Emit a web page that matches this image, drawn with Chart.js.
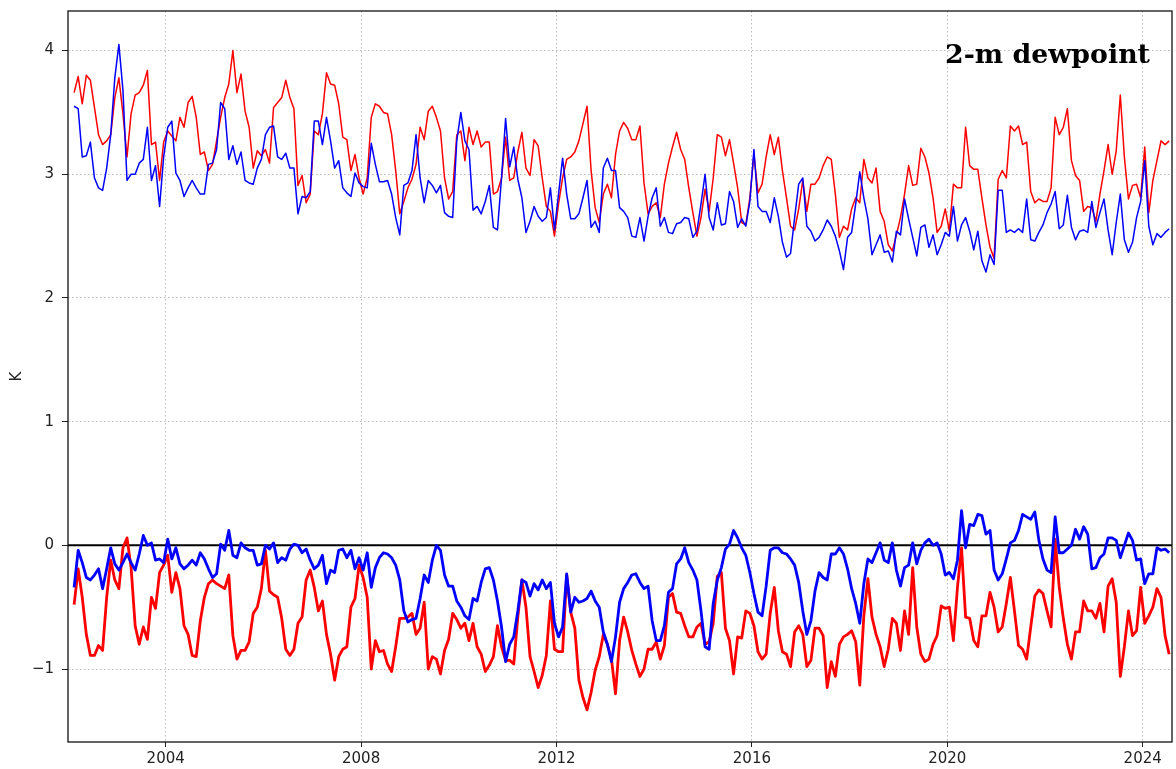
<!DOCTYPE html>
<html>
<head>
<meta charset="utf-8">
<title>2-m dewpoint</title>
<script src="https://cdn.jsdelivr.net/npm/chart.js@4.4.1/dist/chart.umd.min.js"></script>
<style>
  html, body { margin: 0; padding: 0; background: #fff; }
  #dewpoint { display: block; }
</style>
</head>
<body>
<canvas id="dewpoint" width="1176" height="769"></canvas>
<script>
// monthly series, first month = Feb 2002
const startYear = 2002;
const startMonth = 2;

const xTicks = [2004, 2008, 2012, 2016, 2020, 2024];
const yTicks = [-1, 0, 1, 2, 3, 4];

// upper pair (thin lines)
const redUpper = [
    3.66, 3.79, 3.57, 3.80, 3.76, 3.54, 3.32, 3.24, 3.27, 3.32,
    3.62, 3.78, 3.49, 3.14, 3.49, 3.64, 3.66, 3.72, 3.84, 3.24,
    3.26, 2.95, 3.26, 3.35, 3.31, 3.27, 3.46, 3.38, 3.58, 3.63,
    3.46, 3.16, 3.18, 3.03, 3.08, 3.27, 3.46, 3.62, 3.73, 4.00,
    3.66, 3.81, 3.51, 3.38, 3.05, 3.19, 3.15, 3.20, 3.09, 3.54,
    3.58, 3.62, 3.76, 3.62, 3.53, 2.91, 2.99, 2.77, 2.84, 3.35,
    3.32, 3.49, 3.82, 3.73, 3.72, 3.57, 3.30, 3.28, 3.03, 3.16,
    2.97, 2.84, 2.97, 3.46, 3.57, 3.55, 3.50, 3.49, 3.32, 3.03,
    2.68, 2.78, 2.89, 2.96, 3.08, 3.38, 3.28, 3.51, 3.55, 3.46,
    3.35, 2.97, 2.80, 2.86, 3.32, 3.35, 3.11, 3.38, 3.24, 3.35,
    3.22, 3.26, 3.26, 2.84, 2.86, 2.97, 3.30, 2.95, 2.97, 3.18,
    3.34, 3.05, 2.99, 3.28, 3.23, 2.97, 2.74, 2.70, 2.50, 2.76,
    2.97, 3.12, 3.14, 3.18, 3.27, 3.41, 3.55, 3.03, 2.73, 2.61,
    2.84, 2.92, 2.81, 3.16, 3.35, 3.42, 3.37, 3.28, 3.28, 3.39,
    2.93, 2.68, 2.74, 2.77, 2.65, 2.92, 3.09, 3.22, 3.34, 3.20,
    3.12, 2.89, 2.69, 2.50, 2.65, 2.88, 2.70, 2.97, 3.32, 3.30,
    3.15, 3.28, 3.09, 2.89, 2.61, 2.59, 2.81, 3.16, 2.85, 2.92,
    3.14, 3.32, 3.16, 3.30, 3.03, 2.81, 2.58, 2.55, 2.72, 2.95,
    2.70, 2.92, 2.92, 2.97, 3.07, 3.14, 3.12, 2.84, 2.49, 2.58,
    2.55, 2.72, 2.81, 2.77, 3.12, 2.97, 2.93, 3.05, 2.70, 2.62,
    2.43, 2.38, 2.51, 2.65, 2.84, 3.07, 2.91, 2.92, 3.21, 3.14,
    3.01, 2.81, 2.53, 2.58, 2.72, 2.54, 2.92, 2.89, 2.89, 3.38,
    3.07, 3.04, 3.04, 2.81, 2.59, 2.41, 2.32, 2.96, 3.03, 2.97,
    3.39, 3.35, 3.39, 3.24, 3.26, 2.86, 2.77, 2.80, 2.78, 2.78,
    2.89, 3.46, 3.32, 3.38, 3.53, 3.11, 2.99, 2.95, 2.70, 2.74,
    2.73, 2.62, 2.84, 3.03, 3.24, 3.00, 3.19, 3.64, 3.14, 2.80,
    2.91, 2.92, 2.81, 3.22, 2.69, 2.95, 3.11, 3.27, 3.24, 3.27
];

const blueUpper = [
    3.55, 3.53, 3.14, 3.15, 3.26, 2.97, 2.89, 2.87, 3.05, 3.32,
    3.78, 4.05, 3.68, 2.95, 3.00, 3.00, 3.09, 3.12, 3.38, 2.95,
    3.07, 2.74, 3.14, 3.38, 3.43, 3.01, 2.95, 2.82, 2.89, 2.95,
    2.89, 2.84, 2.84, 3.08, 3.09, 3.20, 3.58, 3.53, 3.12, 3.23,
    3.08, 3.18, 2.95, 2.93, 2.92, 3.05, 3.12, 3.32, 3.38, 3.39,
    3.14, 3.12, 3.17, 3.05, 3.05, 2.68, 2.82, 2.81, 2.86, 3.43,
    3.43, 3.24, 3.46, 3.27, 3.05, 3.11, 2.89, 2.85, 2.82, 3.01,
    2.93, 2.90, 2.89, 3.25, 3.08, 2.94, 2.94, 2.95, 2.84, 2.65,
    2.51, 2.91, 2.93, 3.03, 3.32, 2.97, 2.77, 2.95, 2.91, 2.85,
    2.91, 2.69, 2.66, 2.65, 3.27, 3.50, 3.27, 3.20, 2.71, 2.74,
    2.68, 2.78, 2.91, 2.57, 2.55, 2.97, 3.45, 3.06, 3.22, 2.96,
    2.81, 2.53, 2.62, 2.74, 2.66, 2.62, 2.65, 2.89, 2.55, 2.84,
    3.13, 2.84, 2.64, 2.64, 2.68, 2.81, 2.95, 2.57, 2.62, 2.53,
    3.05, 3.13, 3.03, 3.03, 2.73, 2.70, 2.65, 2.50, 2.49, 2.65,
    2.46, 2.66, 2.81, 2.89, 2.58, 2.65, 2.53, 2.52, 2.60, 2.61,
    2.65, 2.64, 2.49, 2.54, 2.76, 3.00, 2.65, 2.55, 2.77, 2.59,
    2.60, 2.86, 2.78, 2.57, 2.64, 2.58, 2.78, 3.20, 2.74, 2.70,
    2.70, 2.61, 2.81, 2.66, 2.45, 2.33, 2.36, 2.65, 2.92, 2.97,
    2.58, 2.54, 2.46, 2.49, 2.55, 2.63, 2.58, 2.50, 2.38, 2.23,
    2.49, 2.53, 2.76, 3.02, 2.81, 2.64, 2.35, 2.43, 2.51, 2.37,
    2.38, 2.29, 2.54, 2.51, 2.80, 2.64, 2.49, 2.34, 2.57, 2.59,
    2.41, 2.51, 2.35, 2.43, 2.53, 2.50, 2.74, 2.46, 2.59, 2.65,
    2.54, 2.39, 2.54, 2.30, 2.21, 2.35, 2.27, 2.87, 2.87, 2.53,
    2.55, 2.53, 2.56, 2.53, 2.80, 2.47, 2.46, 2.53, 2.59, 2.69,
    2.76, 2.86, 2.56, 2.59, 2.83, 2.57, 2.47, 2.54, 2.55, 2.53,
    2.78, 2.57, 2.69, 2.80, 2.55, 2.35, 2.61, 2.84, 2.47, 2.37,
    2.45, 2.65, 2.78, 3.11, 2.58, 2.43, 2.52, 2.49, 2.53, 2.56
];

// lower pair (thick lines)
const redLower = [
    -0.48, -0.19, -0.42, -0.72, -0.89, -0.89, -0.81, -0.85, -0.42, -0.12,
    -0.28, -0.35, -0.02, 0.06, -0.18, -0.65, -0.80, -0.66, -0.76, -0.42,
    -0.51, -0.22, -0.16, -0.08, -0.38, -0.22, -0.35, -0.65, -0.72, -0.89,
    -0.90, -0.61, -0.42, -0.31, -0.28, -0.31, -0.33, -0.35, -0.24, -0.73,
    -0.92, -0.85, -0.85, -0.78, -0.55, -0.50, -0.35, -0.04, -0.37, -0.40,
    -0.42, -0.59, -0.84, -0.89, -0.84, -0.63, -0.58, -0.28, -0.20, -0.34,
    -0.53, -0.45, -0.72, -0.88, -1.09, -0.90, -0.84, -0.82, -0.50, -0.43,
    -0.16, -0.26, -0.42, -1.00, -0.77, -0.86, -0.85, -0.96, -1.02, -0.82,
    -0.59, -0.59, -0.58, -0.55, -0.72, -0.67, -0.46, -1.00, -0.90, -0.92,
    -1.04, -0.85, -0.76, -0.55, -0.60, -0.67, -0.63, -0.77, -0.63, -0.82,
    -0.88, -1.02, -0.97, -0.90, -0.65, -0.82, -0.93, -0.93, -0.96, -0.58,
    -0.28, -0.50, -0.90, -1.02, -1.15, -1.05, -0.89, -0.45, -0.84, -0.86,
    -0.86, -0.24, -0.54, -0.67, -1.09, -1.23, -1.33, -1.19, -1.01, -0.90,
    -0.72, -0.80, -0.92, -1.20, -0.77, -0.58, -0.70, -0.85, -0.96, -1.06,
    -1.00, -0.84, -0.84, -0.78, -0.92, -0.81, -0.42, -0.39, -0.54, -0.55,
    -0.65, -0.74, -0.74, -0.66, -0.63, -0.80, -0.78, -0.63, -0.25, -0.22,
    -0.67, -0.77, -1.04, -0.74, -0.75, -0.53, -0.55, -0.65, -0.86, -0.92,
    -0.88, -0.55, -0.34, -0.69, -0.86, -0.88, -0.98, -0.70, -0.65, -0.72,
    -0.98, -0.93, -0.67, -0.67, -0.73, -1.15, -0.94, -1.06, -0.80, -0.74,
    -0.72, -0.69, -0.78, -1.13, -0.57, -0.27, -0.58, -0.72, -0.82, -0.98,
    -0.84, -0.59, -0.63, -0.85, -0.53, -0.72, -0.18, -0.66, -0.88, -0.94,
    -0.92, -0.80, -0.73, -0.49, -0.51, -0.50, -0.77, -0.34, -0.02, -0.58,
    -0.59, -0.77, -0.82, -0.57, -0.57, -0.38, -0.50, -0.70, -0.66, -0.47,
    -0.26, -0.53, -0.81, -0.84, -0.92, -0.66, -0.41, -0.36, -0.39, -0.53,
    -0.66, 0.05, -0.34, -0.59, -0.80, -0.92, -0.70, -0.70, -0.45, -0.53,
    -0.53, -0.59, -0.47, -0.70, -0.33, -0.27, -0.46, -1.06, -0.82, -0.53,
    -0.73, -0.69, -0.34, -0.63, -0.57, -0.50, -0.35, -0.42, -0.73, -0.88
];

const blueLower = [
    -0.34, -0.04, -0.14, -0.26, -0.28, -0.24, -0.19, -0.35, -0.19, -0.02,
    -0.15, -0.20, -0.14, -0.07, -0.14, -0.20, -0.07, 0.08, 0.00, 0.02,
    -0.12, -0.11, -0.14, 0.05, -0.11, -0.02, -0.15, -0.19, -0.16, -0.12,
    -0.16, -0.06, -0.11, -0.19, -0.26, -0.23, 0.01, -0.04, 0.12, -0.08,
    -0.10, 0.02, -0.02, -0.04, -0.04, -0.16, -0.15, 0.00, -0.03, 0.02,
    -0.14, -0.10, -0.12, -0.03, 0.01, 0.00, -0.06, -0.03, -0.12, -0.19,
    -0.16, -0.08, -0.31, -0.20, -0.22, -0.04, -0.03, -0.10, -0.04, -0.19,
    -0.10, -0.20, -0.06, -0.34, -0.18, -0.10, -0.06, -0.07, -0.10, -0.16,
    -0.28, -0.53, -0.62, -0.60, -0.59, -0.43, -0.24, -0.30, -0.12, 0.00,
    -0.04, -0.24, -0.33, -0.33, -0.45, -0.50, -0.57, -0.60, -0.43, -0.45,
    -0.30, -0.19, -0.18, -0.28, -0.45, -0.66, -0.94, -0.80, -0.74, -0.53,
    -0.28, -0.30, -0.41, -0.31, -0.36, -0.28, -0.35, -0.30, -0.63, -0.74,
    -0.66, -0.23, -0.54, -0.42, -0.46, -0.45, -0.43, -0.37, -0.45, -0.50,
    -0.70, -0.80, -0.94, -0.74, -0.46, -0.35, -0.30, -0.24, -0.23, -0.30,
    -0.35, -0.33, -0.61, -0.77, -0.77, -0.65, -0.38, -0.35, -0.15, -0.11,
    -0.02, -0.14, -0.20, -0.28, -0.53, -0.82, -0.84, -0.47, -0.28, -0.18,
    -0.03, 0.01, 0.12, 0.06, -0.02, -0.08, -0.22, -0.39, -0.54, -0.57,
    -0.33, -0.04, -0.02, -0.02, -0.06, -0.07, -0.11, -0.16, -0.30, -0.53,
    -0.72, -0.61, -0.37, -0.22, -0.26, -0.28, -0.07, -0.07, -0.02, -0.07,
    -0.19, -0.35, -0.47, -0.63, -0.31, -0.11, -0.14, -0.06, 0.02, -0.12,
    -0.14, 0.02, -0.20, -0.33, -0.18, -0.16, 0.02, -0.15, -0.04, 0.02,
    0.05, 0.00, 0.02, -0.07, -0.24, -0.22, -0.27, -0.12, 0.28, -0.02,
    0.17, 0.16, 0.25, 0.24, 0.09, 0.12, -0.20, -0.28, -0.23, -0.11,
    0.02, 0.04, 0.12, 0.25, 0.23, 0.21, 0.27, 0.04, -0.11, -0.20,
    -0.22, 0.23, -0.06, -0.06, -0.03, 0.00, 0.13, 0.05, 0.15, 0.09,
    -0.19, -0.18, -0.10, -0.07, 0.06, 0.06, 0.04, -0.10, 0.00, 0.10,
    0.04, -0.12, -0.11, -0.31, -0.23, -0.23, -0.02, -0.04, -0.03, -0.06
];

// decimal year at mid-month
const monthTimes = redUpper.map((v, i) => startYear + (startMonth - 1 + i + 0.5) / 12);
const toPoints = (vals) => vals.map((v, i) => ({ x: monthTimes[i], y: v }));

const tickFont = { family: "'DejaVu Sans', sans-serif", size: 15 };

const zeroLine = {
    id: "zeroLine",
    beforeDatasetsDraw(chart) {
        const { ctx, chartArea, scales } = chart;
        const y0 = scales.y.getPixelForValue(0);
        ctx.save();
        ctx.strokeStyle = "#000";
        ctx.lineWidth = 2;
        ctx.beginPath();
        ctx.moveTo(chartArea.left, y0);
        ctx.lineTo(chartArea.right, y0);
        ctx.stroke();
        ctx.restore();
    },
};

const frameAndTitle = {
    id: "frameAndTitle",
    afterDraw(chart) {
        const { ctx, chartArea } = chart;
        ctx.save();
        ctx.strokeStyle = "#111";
        ctx.lineWidth = 1.3;
        ctx.strokeRect(chartArea.left, chartArea.top, chartArea.right - chartArea.left, chartArea.bottom - chartArea.top);

        // title inside the plot, top right
        const txt = "2-m dewpoint";
        let size = 26;
        ctx.font = "bold " + size + "px 'DejaVu Serif', serif";
        size = size * 205 / ctx.measureText(txt).width;
        ctx.font = "bold " + size.toFixed(1) + "px 'DejaVu Serif', serif";
        ctx.fillStyle = "#000";
        ctx.textAlign = "right";
        ctx.textBaseline = "alphabetic";
        ctx.fillText(txt, chartArea.right - 22, chartArea.top + 52);
        ctx.restore();
    },
};

var chart = new Chart(document.getElementById("dewpoint"), {
    type: "line",
    data: {
        datasets: [
            { label: "blue lower", data: toPoints(blueLower), borderColor: "#0000ff", borderWidth: 2.8, order: 0 },
            { label: "red lower", data: toPoints(redLower), borderColor: "#ff0000", borderWidth: 2.8, order: 1 },
            { label: "blue upper", data: toPoints(blueUpper), borderColor: "#0000ff", borderWidth: 1.5, order: 2 },
            { label: "red upper", data: toPoints(redUpper), borderColor: "#ff0000", borderWidth: 1.5, order: 3 },
        ],
    },
    options: {
        responsive: false,
        animation: false,
        events: [],
        layout: { padding: { top: 11, right: 4, left: 0, bottom: 0 } },
        elements: {
            point: { radius: 0 },
            line: { tension: 0, fill: false, borderJoinStyle: "round" },
        },
        plugins: {
            legend: { display: false },
            tooltip: { enabled: false },
        },
        scales: {
            x: {
                type: "linear",
                min: 2002,
                max: 2024.6,
                afterBuildTicks: (scale) => { scale.ticks = xTicks.map((v) => ({ value: v })); },
                afterFit: (scale) => {
                    scale.height = 27;
                    scale.paddingLeft = 0;
                    scale.paddingRight = 0;
                },
                ticks: {
                    font: tickFont,
                    color: "#222",
                    padding: 3,
                    maxRotation: 0,
                    callback: (v) => String(v),
                },
                grid: {
                    color: "#b8b8b8",
                    lineWidth: 1,
                    tickLength: 5,
                    tickColor: "#222",
                    tickWidth: 1,
                    tickBorderDash: [],
                },
                border: { display: false, dash: [1.5, 2.5] },
            },
            y: {
                type: "linear",
                min: -1.59,
                max: 4.32,
                afterBuildTicks: (scale) => { scale.ticks = yTicks.map((v) => ({ value: v })); },
                afterFit: (scale) => {
                    scale.width = 68;
                    scale.paddingTop = 0;
                    scale.paddingBottom = 0;
                },
                title: {
                    display: true,
                    text: "K",
                    font: tickFont,
                    color: "#222",
                    padding: { top: 8, bottom: 0 },
                },
                ticks: {
                    font: tickFont,
                    color: "#222",
                    padding: 8,
                    callback: (v) => (v < 0 ? "\u2212" + Math.abs(v) : String(v)),
                },
                grid: {
                    color: "#b8b8b8",
                    lineWidth: 1,
                    tickLength: 6,
                    tickColor: "#222",
                    tickWidth: 1,
                    tickBorderDash: [],
                },
                border: { display: false, dash: [1.5, 2.5] },
            },
        },
    },
    plugins: [zeroLine, frameAndTitle],
});
</script>
</body>
</html>
